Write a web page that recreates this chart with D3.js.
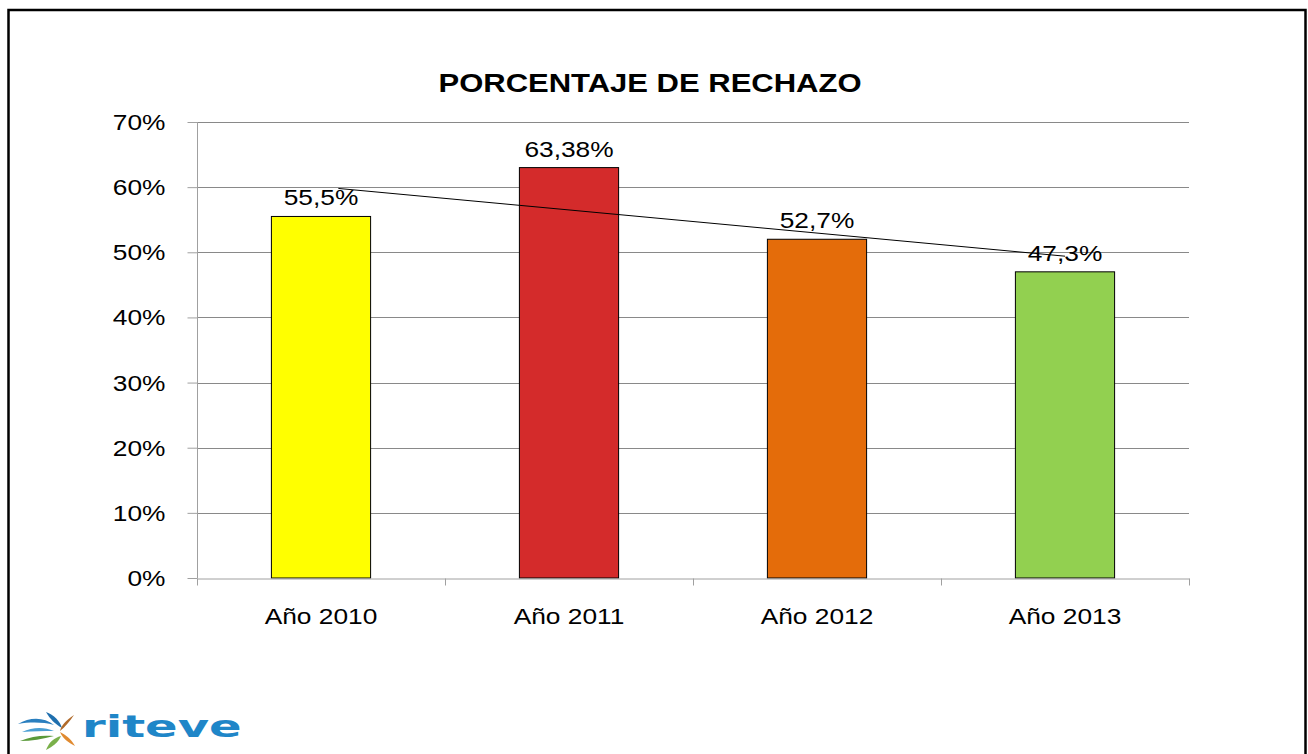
<!DOCTYPE html>
<html>
<head>
<meta charset="utf-8">
<script src="https://cdn.jsdelivr.net/npm/d3@7"></script>
<style>
  body { margin: 0; background: #fff; }
  svg { display: block; font-family: "Liberation Sans", Arial, sans-serif; }
</style>
</head>
<body>
<div class="svg-container"></div>
<script>
// chart data
const categories = ["Año 2010", "Año 2011", "Año 2012", "Año 2013"];
const values = [55.5, 63.0, 52.0, 47.0];
const valueLabels = ["55,5%", "63,38%", "52,7%", "47,3%"];
const barColors = ["#FFFF00", "#D42B2B", "#E46C0A", "#92D050"];
const yTicks = [0, 10, 20, 30, 40, 50, 60, 70];
// trendline endpoints: category index (fractional) and value
const trendIndex = [0.07, 3.0];
const trendValues = [59.8, 49.4];
const title = "PORCENTAJE DE RECHAZO";

const width = 1308, height = 754;
const margin = {top: 122, left: 197, right: 119, bottom: 176};
const sx = 1.17; // the source picture is stretched sideways

const svg = d3.select(".svg-container").append("svg")
  .attr("width", width)
  .attr("height", height);

// outer frame
svg.append("rect")
  .attr("x", 8.5).attr("y", 10)
  .attr("width", 1297).attr("height", 760)
  .attr("fill", "none")
  .attr("stroke", "#000")
  .attr("stroke-width", 2.5);

const plotW = width - margin.left - margin.right;
const plotH = height - margin.top - margin.bottom;

const x = d3.scaleBand().domain(categories).range([margin.left, margin.left + plotW]).paddingInner(0.6).paddingOuter(0.3);
const xIdx = d3.scaleLinear().domain([0, categories.length - 1])
  .range([x(categories[0]) + x.bandwidth() / 2, x(categories[categories.length - 1]) + x.bandwidth() / 2]);
const y = d3.scaleLinear().domain([0, 70]).range([margin.top + plotH, margin.top]);

// gridlines
svg.append("g")
  .selectAll("line")
  .data(yTicks.slice(1))
  .join("line")
  .attr("x1", margin.left).attr("x2", margin.left + plotW)
  .attr("y1", d => Math.round(y(d)) + 0.5).attr("y2", d => Math.round(y(d)) + 0.5)
  .attr("stroke", "#898989")
  .attr("stroke-width", 1);

// y axis
const yAxis = d3.axisLeft(y).tickValues(yTicks).tickSize(10).tickFormat(d => d + "%");
const gy = svg.append("g")
  .attr("transform", `translate(${margin.left + 0.5},0)`)
  .call(yAxis);
gy.select(".domain").attr("stroke", "#a0a0a0").attr("d", `M0,${y(70)}V${y(0)}`);
gy.selectAll(".tick line").attr("stroke", "#a0a0a0");
gy.selectAll(".tick text")
  .attr("x", 0)
  .attr("dy", "0.33em")
  .attr("transform", `translate(-32,0) scale(${sx},1)`)
  .attr("fill", "#000")
  .style("font-size", "22.5px")
  .style("font-family", "Liberation Sans, Arial, sans-serif");

// bars
svg.append("g")
  .selectAll("rect")
  .data(values)
  .join("rect")
  .attr("x", (d, i) => x(categories[i]))
  .attr("y", d => y(d))
  .attr("width", x.bandwidth())
  .attr("height", d => y(0) - y(d))
  .attr("fill", (d, i) => barColors[i])
  .attr("stroke", "#000")
  .attr("stroke-width", 1);

// x axis
const xAxis = d3.axisBottom(x).tickSize(0).tickSizeOuter(0);
const gx = svg.append("g")
  .attr("transform", `translate(0,${Math.round(y(0)) + 0.5})`)
  .call(xAxis);
gx.select(".domain").attr("stroke", "#a0a0a0");
gx.selectAll(".tick text")
  .attr("y", 0)
  .attr("dy", 0)
  .attr("transform", `translate(0,45) scale(${sx},1)`)
  .attr("fill", "#000")
  .style("font-size", "22.5px")
  .style("font-family", "Liberation Sans, Arial, sans-serif");
// category boundary ticks
gx.append("g")
  .selectAll("line")
  .data(d3.range(categories.length + 1))
  .join("line")
  .attr("x1", i => margin.left + 0.5 + i * plotW / categories.length)
  .attr("x2", i => margin.left + 0.5 + i * plotW / categories.length)
  .attr("y1", 0).attr("y2", 7)
  .attr("stroke", "#a0a0a0");

// trend line
svg.append("line")
  .attr("x1", xIdx(trendIndex[0])).attr("y1", y(trendValues[0]))
  .attr("x2", xIdx(trendIndex[1])).attr("y2", y(trendValues[1]))
  .attr("stroke", "#000")
  .attr("stroke-width", 1);

// value labels
svg.append("g")
  .selectAll("text")
  .data(values)
  .join("text")
  .attr("transform", (d, i) => `translate(${x(categories[i]) + x.bandwidth() / 2},${y(d) - 11}) scale(${sx},1)`)
  .attr("text-anchor", "middle")
  .style("font-size", "22.5px")
  .text((d, i) => valueLabels[i]);

// title
svg.append("text")
  .attr("transform", `translate(650,92) scale(${sx},1)`)
  .attr("text-anchor", "middle")
  .style("font-size", "26.5px")
  .style("font-weight", "bold")
  .text(title);

// logo
const logo = svg.append("g").attr("transform", "translate(16,710)");
logo.append("path").attr("d", "M2,14 C14,7 28,7 38,15 C27,12 14,12 2,14 Z").attr("fill", "#2a7fbf");
logo.append("path").attr("d", "M6,22 C17,17 28,17 38,21 C28,21 17,21 6,22 Z").attr("fill", "#4a9fd4");
logo.append("path").attr("d", "M30,2 C38,5 44,11 46,18 C39,14 34,9 30,2 Z").attr("fill", "#1f6fae");
logo.append("path").attr("d", "M4,31 C15,26 27,25 38,26 C27,29 15,31 4,31 Z").attr("fill", "#5a9a3a");
logo.append("path").attr("d", "M30,40 C33,32 38,28 45,26 C42,33 36,37 30,40 Z").attr("fill", "#7ab04a");
logo.append("path").attr("d", "M58,5 C50,10 45,16 44,21 C49,17 54,11 58,5 Z").attr("fill", "#b06a2a");
logo.append("path").attr("d", "M44,22 C47,29 53,33 59,36 C55,29 50,25 44,22 Z").attr("fill", "#e08a30");
logo.append("text")
  .attr("transform", "translate(66,27) scale(1.55,1)")
  .style("font-family", "DejaVu Sans, sans-serif")
  .style("font-weight", "bold")
  .style("font-size", "31px")
  .attr("fill", "#1f86c8")
  .text("riteve");
</script>
</body>
</html>
